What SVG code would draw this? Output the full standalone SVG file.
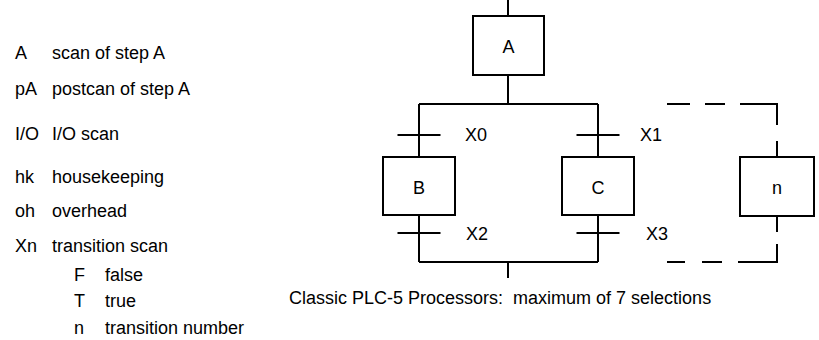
<svg xmlns="http://www.w3.org/2000/svg" width="819" height="340" viewBox="0 0 819 340">
<style>
text{font-family:"Liberation Sans",Arial,sans-serif;font-size:18px;fill:#000}
.c{text-anchor:middle}
.ln{stroke:#000;stroke-width:2;fill:none}
.box{stroke:#000;stroke-width:2;fill:#fff}
</style>
<rect width="819" height="340" fill="#fff"/>
<g id="legend">
<text x="15" y="59">A</text><text x="52" y="59">scan of step A</text>
<text x="15" y="95">pA</text><text x="52" y="95">postcan of step A</text>
<text x="15" y="140">I/O</text><text x="52" y="140">I/O scan</text>
<text x="15" y="183">hk</text><text x="52" y="183">housekeeping</text>
<text x="15" y="217">oh</text><text x="52" y="217">overhead</text>
<text x="15" y="252">Xn</text><text x="52" y="252">transition scan</text>
<text x="74" y="281">F</text><text x="105" y="281">false</text>
<text x="74" y="307">T</text><text x="105" y="307">true</text>
<text x="74" y="334">n</text><text x="105" y="334">transition number</text>
</g>
<g id="connectors" class="ln">
<path class="ln" d="M508 0V16M508 75V104M419 104H598M419 104V157M598 104V157M419 215V262M598 215V262M419 262H598M508 262V278"/>
<path class="ln" d="M397.5 135H440.5M576.5 135H619.5M397.5 233H440.5M576.5 233H619.5"/>
<path class="ln" d="M667 104H690M705 104H725M740 104H777V125M777 141V157M777 216V232M777 244V262H738M722 262H702M685 262H667"/>
</g>
<g id="stepA"><rect class="box" x="473" y="16" width="71" height="59"/><text class="c" x="508.5" y="53">A</text></g>
<g id="stepB"><rect class="box" x="383" y="157" width="72" height="58"/><text class="c" x="419" y="194">B</text></g>
<g id="stepC"><rect class="box" x="562" y="157" width="72" height="58"/><text class="c" x="598" y="194">C</text></g>
<g id="stepN"><rect class="box" x="740" y="157" width="74" height="59"/><text class="c" x="777" y="194">n</text></g>
<g id="labels">
<text x="465" y="141">X0</text>
<text x="640" y="141">X1</text>
<text x="466" y="240">X2</text>
<text x="646" y="240">X3</text>
<text x="289" y="304" xml:space="preserve">Classic PLC-5 Processors:  maximum of 7 selections</text>
</g>
</svg>
